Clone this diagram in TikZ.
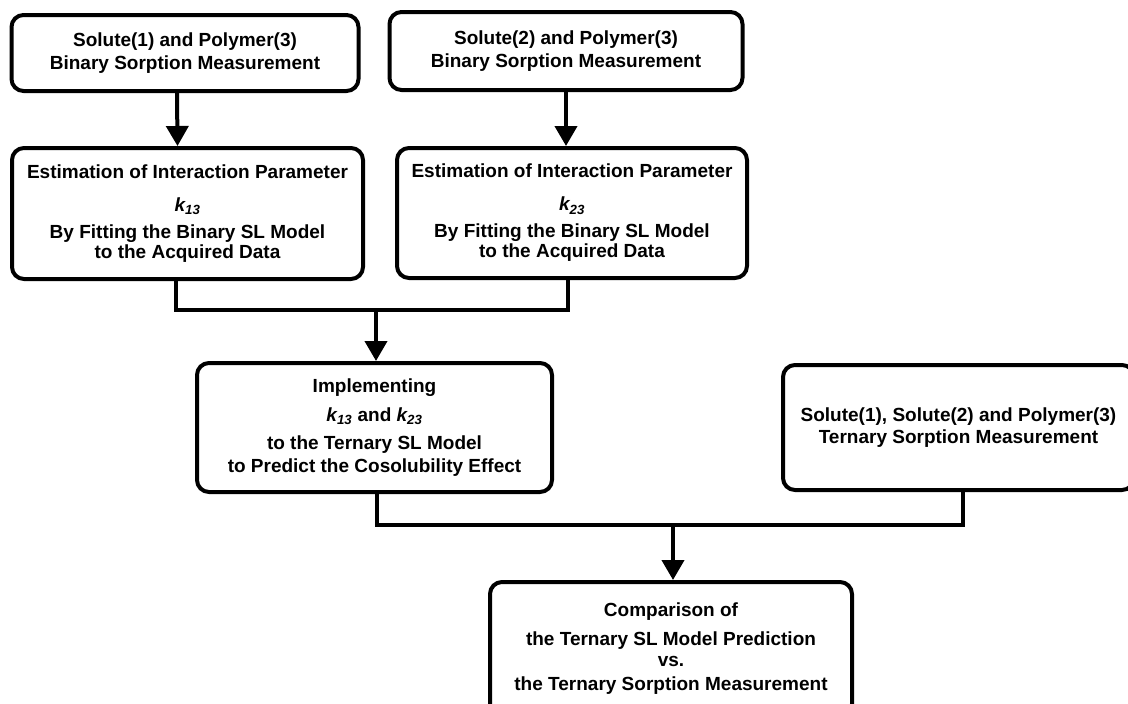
\documentclass[tikz,border=0pt]{standalone}
\usepackage{fontspec}
\setmainfont{Liberation Sans}
\usetikzlibrary{arrows.meta}

\newcommand{\kpar}[1]{{\itshape k\textsubscript{#1}}}

\tikzset{
	stage/.style={draw, line width=4pt, rounded corners=12pt, align=center, inner sep=0pt,
		font=\fontsize{19}{20}\selectfont\bfseries},
	link/.style={line width=4pt},
	flow/.style={line width=4pt, -{Triangle[width=22pt,length=20pt]}}
}

\begin{document}
\begin{tikzpicture}[x=1pt, y=-1pt]
			\useasboundingbox (0,0) rectangle (1128,704);% page frame

			%	Binary sorption measurements
			\node[stage, minimum width=347pt, minimum height=76pt] (bin1) at (185,53)
				{Solute(1) and Polymer(3)\\[3pt]Binary Sorption Measurement};
			\node[stage, minimum width=353pt, minimum height=78pt] (bin2) at (566,51)
				{Solute(2) and Polymer(3)\\[3pt]Binary Sorption Measurement};

			%	Fitting of the binary model
			\node[stage, minimum width=351pt, minimum height=131pt] (fit1) at (187.5,213.5)
				{Estimation of Interaction Parameter\\[13pt]\kpar{13}\\[7pt]By Fitting the Binary SL Model\\to the Acquired Data};
			\node[stage, minimum width=350pt, minimum height=130pt] (fit2) at (572,213)
				{Estimation of Interaction Parameter\\[13pt]\kpar{23}\\[7pt]By Fitting the Binary SL Model\\to the Acquired Data};

			%	Ternary model and ternary measurement
			\node[stage, minimum width=355pt, minimum height=129pt] (impl) at (374.5,427.5)
				{Implementing\\[9pt]\kpar{13} and \kpar{23}\\[8pt]to the Ternary SL Model\\[3pt]to Predict the Cosolubility Effect};
			\node[stage, minimum width=351pt, minimum height=125pt] (tern) at (958.5,427.5)
				{Solute(1), Solute(2) and Polymer(3)\\[2pt]Ternary Sorption Measurement};

			%	Comparison
			\node[stage, minimum width=362pt, minimum height=134pt] (comp) at (671,649)
				{Comparison of\\[9pt]the Ternary SL Model Prediction\\[1pt]vs.\\[4pt]the Ternary Sorption Measurement};

			%	Junctions of the lines
			\coordinate (join1) at (376,310);
			\coordinate (join2) at (673,525);

			%	Arrows
			\draw[flow] ([xshift=-8pt]bin1.south) -- ([xshift=-10pt]fit1.north);
			\draw[flow] (bin2.south) -- ([xshift=-6pt]fit2.north);
			\draw[link] ([xshift=-12pt]fit1.south) |- (join1) -| ([xshift=-4pt]fit2.south);
			\draw[flow] (join1) -- (join1 |- impl.north);
			\draw[link] ([xshift=2pt]impl.south) |- (join2) -| ([xshift=4pt]tern.south);
			\draw[flow] (join2) -- (join2 |- comp.north);
		\end{tikzpicture}
\end{document}
